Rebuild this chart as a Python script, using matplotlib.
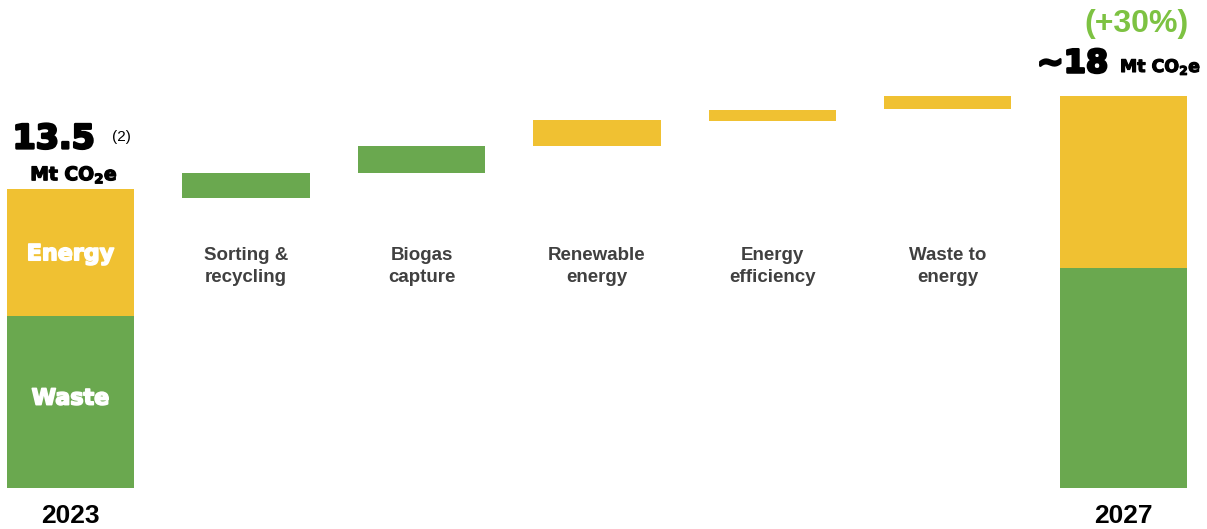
import matplotlib.pyplot as plt
import matplotlib.patheffects as pe

# --- data (Mt CO2e) ---
categories = ["2023", "Sorting &\nrecycling", "Biogas\ncapture", "Renewable\nenergy",
              "Energy\nefficiency", "Waste to\nenergy", "2027"]
start_waste = 7.77
start_energy = 5.73
step_bottom = [13.08, 14.24, 15.45, 16.56, 17.10]
step_height = [1.16, 1.20, 1.17, 0.51, 0.60]
step_kind = ["waste", "waste", "energy", "energy", "energy"]
end_waste = 9.93
end_energy = 7.77
start_label = "13.5"
end_label = "~18"
growth_label = "(+30%)"

GREEN = "#6aa84f"
YELLOW = "#f0c132"
colors = {"waste": GREEN, "energy": YELLOW}


def heavy(c, lw=1.6):
    # fake a black weight by stroking the glyphs
    return [pe.withStroke(linewidth=lw, foreground=c)]


fig = plt.figure(figsize=(12.07, 5.29), dpi=100)
ax = fig.add_axes([0, 0, 1, 1])
ax.set_xlim(-0.4017, 6.476)
ax.set_ylim(-1.851, 22.03)
ax.axis("off")

w = 0.724
x = list(range(len(categories)))

# start and end stacked bars
ax.bar(x[0], start_waste, w, color=GREEN)
ax.bar(x[0], start_energy, w, bottom=start_waste, color=YELLOW)
ax.bar(x[-1], end_waste, w, color=GREEN)
ax.bar(x[-1], end_energy, w, bottom=end_waste, color=YELLOW)

# floating steps
for i, (b, h, k) in enumerate(zip(step_bottom, step_height, step_kind)):
    ax.bar(x[i + 1], h, w, bottom=b, color=colors[k])
    ax.text(x[i + 1], 10.0, categories[i + 1], ha="center", va="center",
            fontsize=13.5, fontweight="bold", color="#404040",
            family="Liberation Sans", linespacing=1.45)

# labels inside start bar
ax.text(x[0], start_waste / 2 + 0.15, "Waste", ha="center", va="center",
        fontsize=16, fontweight="bold", color="white", family="DejaVu Sans",
        path_effects=heavy("white", 1.2))
ax.text(x[0], start_waste + start_energy / 2 - 0.08, "Energy", ha="center", va="center",
        fontsize=16, fontweight="bold", color="white", family="DejaVu Sans",
        path_effects=heavy("white", 1.2))

# years
for i in (0, -1):
    ax.text(x[i], -1.26, categories[i], ha="center", va="center",
            fontsize=19, fontweight="bold", color="black", family="Liberation Sans")

# totals
ax.text(-0.33, 15.76, start_label, ha="left", va="center",
        fontsize=24, fontweight="bold", family="DejaVu Sans",
        path_effects=heavy("black", 1.8))
ax.text(0.293, 15.85, "(2)", ha="center", va="center", fontsize=11,
        family="Liberation Sans")
ax.text(0.02, 14.13, r"Mt CO$_\mathbf{2}$e", ha="center", va="center",
        fontsize=13.5, fontweight="bold", family="DejaVu Sans",
        path_effects=heavy("black", 0.9))

ax.text(5.507, 19.14, end_label, ha="left", va="center",
        fontsize=23, fontweight="bold", family="DejaVu Sans",
        path_effects=heavy("black", 1.8))
ax.text(5.98, 19.0, r"Mt CO$_\mathbf{2}$e", ha="left", va="center",
        fontsize=12.5, fontweight="bold", family="DejaVu Sans",
        path_effects=heavy("black", 0.8))
ax.text(6.077, 20.95, growth_label, ha="center", va="center",
        fontsize=23, fontweight="bold", color="#7dc242", family="Liberation Sans")

fig.savefig("out.png", dpi=100)
